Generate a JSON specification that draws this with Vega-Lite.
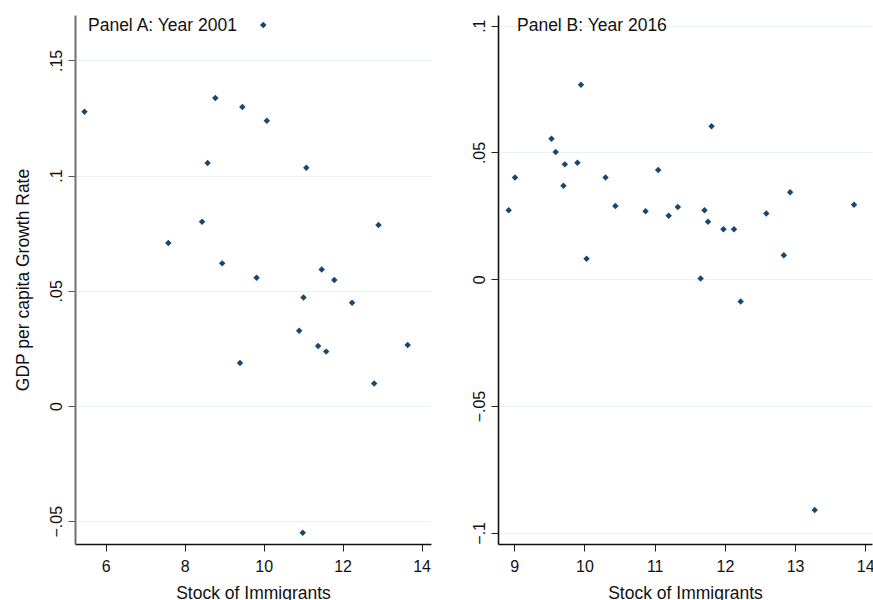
{
  "$schema": "https://vega.github.io/schema/vega-lite/v6.json",
  "padding": {"left": 14, "top": 15, "right": 0, "bottom": 0},
  "background": "white",
  "spacing": 67,
  "bounds": "flush",
  "config": {
    "view": {"stroke": null},
    "font": "Liberation Sans",
    "axis": {
      "labelFont": "Liberation Sans",
      "titleFont": "Liberation Sans",
      "labelFontSize": 16,
      "titleFontSize": 17.5,
      "titleFontWeight": "normal",
      "labelColor": "#111",
      "titleColor": "#111",
      "tickSize": 7,
      "tickColor": "#222",
      "domainColor": "#111",
      "domainWidth": 1.6,
      "gridColor": "#eaf2f3",
      "gridWidth": 1
    },
    "title": {"font": "Liberation Sans", "fontSize": 17.5, "fontWeight": "normal", "color": "#111"}
  },
  "datasets": {
    "a": [
      {"stock": 9.99, "growth": 0.1654},
      {"stock": 5.46, "growth": 0.1277},
      {"stock": 8.775, "growth": 0.1337},
      {"stock": 9.46, "growth": 0.1298},
      {"stock": 10.08, "growth": 0.1238},
      {"stock": 8.58, "growth": 0.1055},
      {"stock": 11.08, "growth": 0.1034},
      {"stock": 8.44, "growth": 0.0800},
      {"stock": 7.585, "growth": 0.0707},
      {"stock": 12.91, "growth": 0.0786},
      {"stock": 8.95, "growth": 0.0619},
      {"stock": 9.82, "growth": 0.0557},
      {"stock": 11.47, "growth": 0.0592},
      {"stock": 11.79, "growth": 0.0547},
      {"stock": 11.01, "growth": 0.0471},
      {"stock": 12.24, "growth": 0.0448},
      {"stock": 10.90, "growth": 0.0327},
      {"stock": 11.38, "growth": 0.0260},
      {"stock": 11.585, "growth": 0.0236},
      {"stock": 9.40, "growth": 0.0187},
      {"stock": 13.65, "growth": 0.0265},
      {"stock": 12.80, "growth": 0.0098},
      {"stock": 10.99, "growth": -0.0550}
    ],
    "b": [
      {"stock": 8.92, "growth": 0.0272},
      {"stock": 9.01, "growth": 0.0401},
      {"stock": 9.53, "growth": 0.0554},
      {"stock": 9.59, "growth": 0.0502},
      {"stock": 9.72, "growth": 0.0453},
      {"stock": 9.70, "growth": 0.0369},
      {"stock": 9.90, "growth": 0.0459},
      {"stock": 9.95, "growth": 0.0767},
      {"stock": 10.03, "growth": 0.0081},
      {"stock": 10.30, "growth": 0.0401},
      {"stock": 10.44, "growth": 0.0289},
      {"stock": 10.87, "growth": 0.0268},
      {"stock": 11.05, "growth": 0.0431},
      {"stock": 11.20, "growth": 0.0250},
      {"stock": 11.33, "growth": 0.0285},
      {"stock": 11.655, "growth": 0.0003},
      {"stock": 11.71, "growth": 0.0272},
      {"stock": 11.76, "growth": 0.0227},
      {"stock": 11.81, "growth": 0.0603},
      {"stock": 11.98, "growth": 0.0197},
      {"stock": 12.13, "growth": 0.0197},
      {"stock": 12.225, "growth": -0.0088},
      {"stock": 12.59, "growth": 0.0259},
      {"stock": 12.84, "growth": 0.0095},
      {"stock": 12.93, "growth": 0.0343},
      {"stock": 13.84, "growth": 0.0294},
      {"stock": 13.28, "growth": -0.0910}
    ]
  },
  "hconcat": [
    {
      "width": 356,
      "height": 529,
      "data": {"name": "a"},
      "title": {"text": "Panel A: Year 2001", "anchor": "start", "frame": "group", "orient": "top", "offset": -19, "baseline": "top", "dx": 13, "dy": 0},
      "mark": {"type": "point", "shape": "diamond", "filled": true, "size": 42, "color": "#1a476f", "opacity": 1},
      "encoding": {
        "x": {
          "field": "stock", "type": "quantitative",
          "scale": {"domain": [5.22, 14.24], "nice": false, "zero": false},
          "axis": {"values": [6, 8, 10, 12, 14], "grid": false, "title": "Stock of Immigrants", "labelPadding": 7, "titlePadding": 10}
        },
        "y": {
          "field": "growth", "type": "quantitative",
          "scale": {"domain": [-0.0599, 0.1697], "nice": false, "zero": false},
          "axis": {
            "values": [-0.05, 0, 0.05, 0.1, 0.15],
            "labelExpr": "replace(format(datum.value, '.2~f'), '0.', '.')",
            "labelAngle": -90, "labelAlign": "center", "labelBaseline": "bottom", "labelPadding": 4,
            "title": "GDP per capita Growth Rate", "titlePadding": 16,
            "domainColor": "#707070", "domainWidth": 2, "tickColor": "#555", "grid": true
          }
        }
      }
    },
    {
      "width": 374,
      "height": 529,
      "data": {"name": "b"},
      "title": {"text": "Panel B: Year 2016", "anchor": "start", "frame": "group", "orient": "top", "offset": -19, "baseline": "top", "dx": 19, "dy": 0},
      "mark": {"type": "point", "shape": "diamond", "filled": true, "size": 42, "color": "#1a476f", "opacity": 1},
      "encoding": {
        "x": {
          "field": "stock", "type": "quantitative",
          "scale": {"domain": [8.768, 14.096], "nice": false, "zero": false},
          "axis": {"values": [9, 10, 11, 12, 13, 14], "grid": false, "title": "Stock of Immigrants", "labelPadding": 7, "titlePadding": 10}
        },
        "y": {
          "field": "growth", "type": "quantitative",
          "scale": {"domain": [-0.1044, 0.1042], "nice": false, "zero": false},
          "axis": {
            "values": [-0.1, -0.05, 0, 0.05, 0.1],
            "labelExpr": "replace(format(datum.value, '.2~f'), '0.', '.')",
            "labelAngle": -90, "labelAlign": "center", "labelBaseline": "bottom", "labelPadding": 4,
            "title": null, "grid": true
          }
        }
      }
    }
  ]
}
